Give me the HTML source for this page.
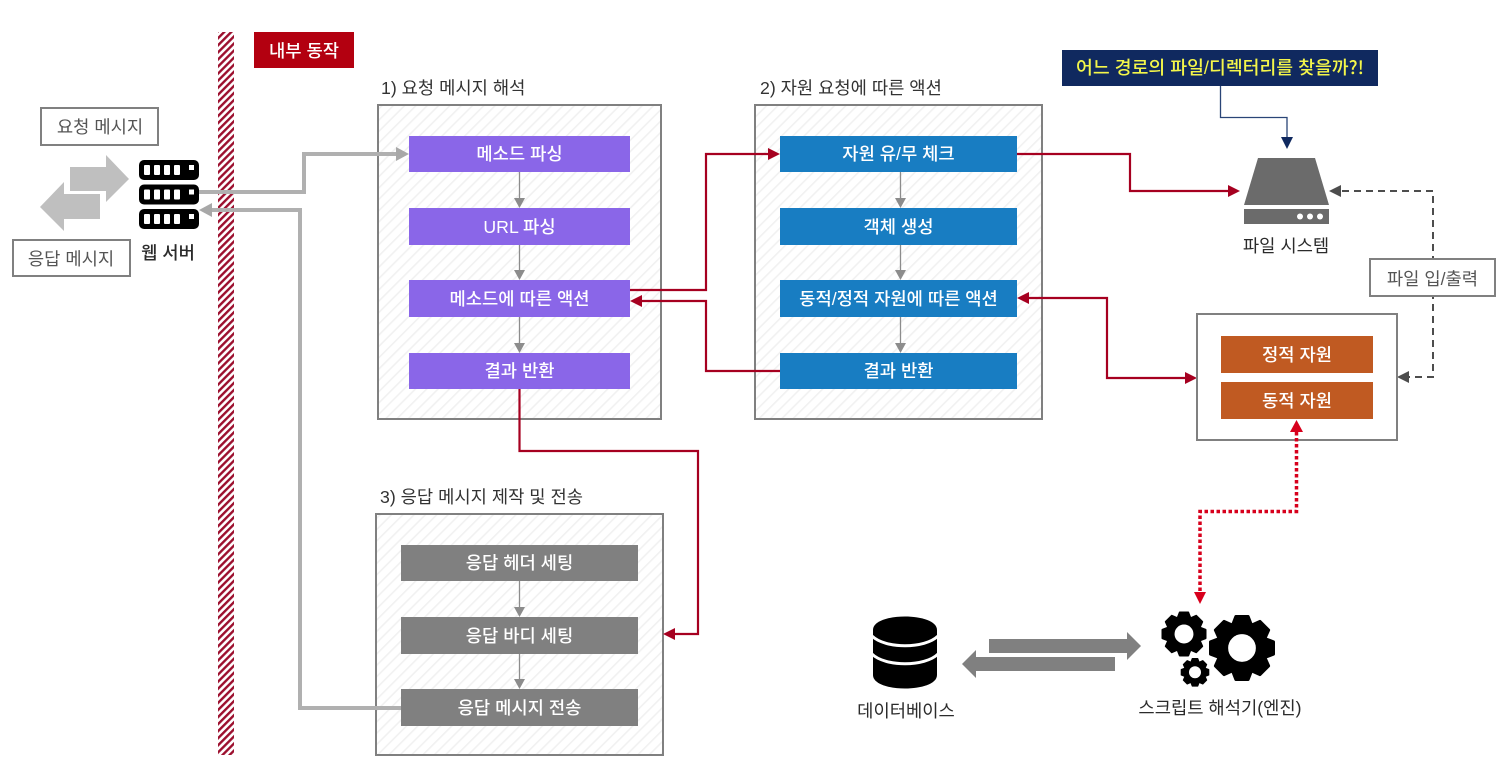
<!DOCTYPE html>
<html lang="ko"><head><meta charset="utf-8"><title>Diagram</title>
<style>html,body{margin:0;padding:0;background:#fff}svg{display:block}
text{font-family:"Liberation Sans","Noto Sans CJK KR",sans-serif;font-size:17.7px;text-anchor:middle;fill:#2b2b2b}
.w{fill:#fff;font-weight:500}.t{text-anchor:start;fill:#333}.g{fill:#555}</style></head><body>
<svg width="1510" height="773" viewBox="0 0 1510 773" xmlns="http://www.w3.org/2000/svg">
<defs>
<pattern id="h" width="5" height="5" patternUnits="userSpaceOnUse" patternTransform="rotate(45)"><rect width="5" height="5" fill="#fff"/><rect width="2.400" height="5" fill="#9c0f2e"/></pattern>
<pattern id="l" width="8" height="8" patternUnits="userSpaceOnUse" patternTransform="rotate(45)"><rect width="8" height="8" fill="#fff"/><rect width="1.600" height="8" fill="#f1f1f1"/></pattern>
<polygon id="tooth" points="-.29,-.7 -.19,-.96 .19,-.96 .29,-.7" stroke="#000" stroke-width=".08" stroke-linejoin="round"/>
<g id="gear"><circle r=".61" fill="none" stroke="#000" stroke-width=".38"/>
<use href="#tooth"/><use href="#tooth" transform="rotate(45)"/><use href="#tooth" transform="rotate(90)"/><use href="#tooth" transform="rotate(135)"/><use href="#tooth" transform="rotate(180)"/><use href="#tooth" transform="rotate(225)"/><use href="#tooth" transform="rotate(270)"/><use href="#tooth" transform="rotate(315)"/></g>
</defs>
<rect x="218" y="32" width="16" height="723" fill="url(#h)"/>
<rect x="254" y="32" width="100" height="36" fill="#b30010"/><text x="304" y="57" class="w">내부 동작</text>

<!-- left -->
<rect x="41" y="108" width="117" height="37" fill="#fff" stroke="#808080" stroke-width="2"/><text x="100" y="133" class="g">요청 메시지</text>
<rect x="13" y="240" width="117" height="36" fill="#fff" stroke="#808080" stroke-width="2"/><text x="71" y="265" class="g">응답 메시지</text>
<polygon points="70,167 106,167 106,155 129,179 106,202 106,191 70,191" fill="#bfbfbf"/>
<polygon points="40,207 64,182 64,194 100,194 100,219 64,219 64,231" fill="#bfbfbf"/>
<g id="s"><rect x="139" y="160" width="60" height="20" rx="5" fill="#000"/>
<rect x="144" y="165" width="6" height="10" rx="1" fill="#fff"/><rect x="154" y="165" width="6" height="10" rx="1" fill="#fff"/><rect x="164" y="165" width="6" height="10" rx="1" fill="#fff"/><rect x="174" y="165" width="6" height="10" rx="1" fill="#fff"/><rect x="189" y="165" width="5" height="5" fill="#fff"/></g>
<use href="#s" y="24.5"/><use href="#s" y="49"/>
<text x="168" y="259" font-weight="500">웹 서버</text>

<!-- boxes -->
<text x="381" y="94" class="t">1) 요청 메시지 해석</text>
<rect x="378" y="105" width="283" height="314" fill="url(#l)" stroke="#808080" stroke-width="2"/>
<text x="760" y="94" class="t">2) 자원 요청에 따른 액션</text>
<rect x="755" y="105" width="287" height="314" fill="url(#l)" stroke="#808080" stroke-width="2"/>
<text x="380" y="503" class="t">3) 응답 메시지 제작 및 전송</text>
<rect x="376" y="514" width="287" height="241" fill="url(#l)" stroke="#808080" stroke-width="2"/>

<!-- inner arrows -->
<g stroke="#8c8c8c" stroke-width="1.3">
<path d="M519.500 172V200M519.500 245V272M519.500 317V345M900.500 172V200M900.500 245V272M900.500 317V345M519.500 581V609M519.500 654V681"/></g>
<g fill="#8c8c8c">
<path d="M514 198h11l-5.500 10zM514 270h11l-5.500 10zM514 343h11l-5.500 10zM895 198h11l-5.500 10zM895 270h11l-5.500 10zM895 343h11l-5.500 10zM514 607h11l-5.500 10zM514 679h11l-5.500 10z"/></g>

<g fill="#8a66e8">
<rect x="409" y="136" width="221" height="36"/><rect x="409" y="208" width="221" height="37"/><rect x="409" y="280" width="221" height="37"/><rect x="409" y="353" width="221" height="36"/></g>
<text x="519.500" y="160" class="w">메소드 파싱</text><text x="519.500" y="233" class="w">URL 파싱</text><text x="519.500" y="305" class="w">메소드에 따른 액션</text><text x="519.500" y="377" class="w">결과 반환</text>
<g fill="#187dc2">
<rect x="780" y="136" width="237" height="36"/><rect x="780" y="208" width="237" height="37"/><rect x="780" y="280" width="237" height="37"/><rect x="780" y="353" width="237" height="36"/></g>
<text x="898.500" y="160" class="w">자원 유/무 체크</text><text x="898.500" y="233" class="w">객체 생성</text><text x="898.500" y="305" class="w">동적/정적 자원에 따른 액션</text><text x="898.500" y="377" class="w">결과 반환</text>
<g fill="#808080">
<rect x="401" y="545" width="237" height="36"/><rect x="401" y="617" width="237" height="37"/><rect x="401" y="689" width="237" height="37"/></g>
<text x="519.500" y="569" class="w">응답 헤더 세팅</text><text x="519.500" y="642" class="w">응답 바디 세팅</text><text x="519.500" y="714" class="w">응답 메시지 전송</text>

<!-- gray connectors -->
<g fill="none" stroke="#b0b0b0" stroke-width="4">
<path d="M199 192H304V154H398"/><path d="M401 708H300V210H211"/></g>
<path d="M409 154L396 147V161z" fill="#a8a8a8"/><path d="M199 210L212 203V217z" fill="#a8a8a8"/>

<!-- red connectors -->
<g fill="none" stroke="#a60020" stroke-width="2.200">
<path d="M630 290H706V154H768"/><path d="M780 371H706V301H642"/><path d="M1017 154H1130V191H1228"/><path d="M519.500 389V451H698V634H675"/><path d="M1029 298H1107V378H1186"/></g>
<g fill="#a60020">
<path d="M780 154L768 148V160z"/><path d="M630 301L642 295V307z"/><path d="M1240 191L1228 185V197z"/><path d="M663 634L675 628V640z"/><path d="M1017 298L1029 292V304z"/><path d="M1197 378L1185 372V384z"/></g>

<!-- question -->
<rect x="1062" y="50" width="316" height="36" fill="#10295f"/>
<text x="1220" y="74" style="fill:#f4f64a;font-size:18.300px" font-weight="500">어느 경로의 파일/디렉터리를 찾을까<tspan style="font-family:'Noto Sans CJK KR',sans-serif">?!</tspan></text>
<path d="M1220.500 86V117.500H1287V138" fill="none" stroke="#2a4577" stroke-width="1.300"/><path d="M1281 137h12l-6 12z" fill="#10295f"/>

<!-- disk -->
<polygon points="1258,158 1315,158 1329,205 1244,205" fill="#6b6b6b"/>
<rect x="1244" y="209" width="85" height="15" fill="#6b6b6b"/>
<circle cx="1300" cy="216.500" r="3" fill="#fff"/><circle cx="1310" cy="216.500" r="3" fill="#fff"/><circle cx="1320" cy="216.500" r="3" fill="#fff"/>
<text x="1286" y="252">파일 시스템</text>

<!-- dashed -->
<path d="M1342 191H1433V377H1409" fill="none" stroke="#4d4d4d" stroke-width="2" stroke-dasharray="7 5"/>
<path d="M1329 191L1341 185V197z" fill="#4d4d4d"/><path d="M1397 377L1409 371V383z" fill="#4d4d4d"/>
<rect x="1370" y="259" width="125" height="37" fill="#fff" stroke="#808080" stroke-width="2"/><text x="1432.500" y="285" class="g">파일 입/출력</text>

<!-- resources -->
<rect x="1197" y="314" width="200" height="126" fill="#fff" stroke="#808080" stroke-width="2"/>
<rect x="1221" y="336" width="152" height="37" fill="#c05a22"/><rect x="1221" y="382" width="152" height="37" fill="#c05a22"/>
<text x="1297" y="361" class="w">정적 자원</text><text x="1297" y="407" class="w">동적 자원</text>

<!-- dotted red -->
<path d="M1296.500 432V511.500H1200V594" fill="none" stroke="#d7001c" stroke-width="3.500" stroke-dasharray="3.500 2.500"/>
<path d="M1296.500 420L1290 432H1303z" fill="#d7001c"/><path d="M1200 604L1194 592H1206z" fill="#d7001c"/>

<!-- db -->
<path d="M873 630C873 612 937 612 937 630V675C937 693 873 693 873 675Z" fill="#000"/>
<g fill="none" stroke="#fff" stroke-width="3"><path d="M872 636C885 649 925 649 938 636"/><path d="M872 654C885 667 925 667 938 654"/></g>
<text x="906" y="717">데이터베이스</text>

<!-- db arrows -->
<polygon points="989,639 1127,639 1127,632 1141,646 1127,660 1127,653 989,653" fill="#808080"/>
<polygon points="962,664 976,650 976,657 1115,657 1115,671 976,671 976,678" fill="#808080"/>

<!-- gears -->
<use href="#gear" transform="translate(1242 648) scale(33)"/>
<use href="#gear" transform="translate(1184 634) scale(22.500)"/>
<use href="#gear" transform="translate(1195 672.300) scale(14.300)"/>
<text x="1220" y="714">스크립트 해석기(엔진)</text>
</svg></body></html>
